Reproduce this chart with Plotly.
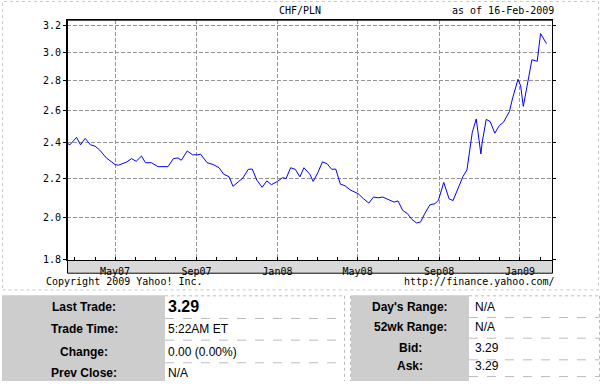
import math
import plotly.graph_objects as go

W, H = 604, 387

# ---- data ----
dates = [
    "2007-02-17", "2007-02-22", "2007-03-04", "2007-03-10", "2007-03-17", "2007-03-25", "2007-04-01", "2007-04-08", "2007-04-18", "2007-04-23",
    "2007-05-01", "2007-05-06", "2007-05-11", "2007-05-18", "2007-05-26", "2007-06-02", "2007-06-10", "2007-06-16", "2007-06-25", "2007-07-05",
    "2007-07-20", "2007-07-28", "2007-08-04", "2007-08-09", "2007-08-18", "2007-08-26", "2007-09-03", "2007-09-07", "2007-09-17", "2007-09-26",
    "2007-10-05", "2007-10-12", "2007-10-20", "2007-10-26", "2007-11-03", "2007-11-10", "2007-11-18", "2007-11-24", "2007-12-01", "2007-12-09",
    "2007-12-16", "2007-12-23", "2007-12-31", "2008-01-09", "2008-01-14", "2008-01-21", "2008-01-28", "2008-02-04", "2008-02-10", "2008-02-19",
    "2008-02-24", "2008-03-02", "2008-03-09", "2008-03-16", "2008-03-23", "2008-03-29", "2008-04-05", "2008-04-12", "2008-04-20", "2008-05-02",
    "2008-05-10", "2008-05-18", "2008-05-25", "2008-06-01", "2008-06-08", "2008-06-18", "2008-06-25", "2008-07-01", "2008-07-08", "2008-07-15",
    "2008-07-22", "2008-07-29", "2008-08-04", "2008-08-10", "2008-08-18", "2008-08-26", "2008-08-31", "2008-09-08", "2008-09-16", "2008-09-22",
    "2008-09-30", "2008-10-07", "2008-10-13", "2008-10-17", "2008-10-21", "2008-10-27", "2008-10-30", "2008-11-03", "2008-11-05", "2008-11-11",
    "2008-11-17", "2008-11-24", "2008-12-01", "2008-12-07", "2008-12-16", "2008-12-21", "2008-12-29", "2009-01-02", "2009-01-06", "2009-01-11",
    "2009-01-19", "2009-01-27", "2009-02-01", "2009-02-10",
]
values = [
    2.400, 2.389, 2.433, 2.389, 2.427, 2.389, 2.381, 2.358, 2.313, 2.298,
    2.276, 2.272, 2.280, 2.289, 2.309, 2.294, 2.324, 2.286, 2.286, 2.264,
    2.264, 2.309, 2.313, 2.300, 2.353, 2.331, 2.331, 2.335, 2.286, 2.276,
    2.258, 2.222, 2.209, 2.157, 2.181, 2.202, 2.249, 2.251, 2.190, 2.152,
    2.186, 2.166, 2.181, 2.204, 2.198, 2.258, 2.249, 2.208, 2.258, 2.222,
    2.183, 2.231, 2.291, 2.280, 2.249, 2.251, 2.169, 2.160, 2.138, 2.118,
    2.092, 2.070, 2.101, 2.097, 2.101, 2.087, 2.075, 2.081, 2.033, 2.018,
    1.988, 1.971, 1.976, 2.015, 2.061, 2.067, 2.085, 2.178, 2.092, 2.083,
    2.150, 2.210, 2.246, 2.344, 2.463, 2.546, 2.463, 2.336, 2.404, 2.543,
    2.530, 2.458, 2.506, 2.525, 2.592, 2.682, 2.807, 2.762, 2.626, 2.742,
    2.945, 2.934, 3.141, 3.064,
]
x_tick_dates = ["2007-05-01", "2007-09-01", "2008-01-01", "2008-05-01", "2008-09-01", "2009-01-01"]
x_tick_labels = ["May07", "Sep07", "Jan08", "May08", "Sep08", "Jan09"]
month_ticks = [f"{y}-{m:02d}-01" for y in (2007, 2008, 2009) for m in range(1, 13)
               if "2007-03-01" <= f"{y}-{m:02d}-01" <= "2009-02-01"]
y_tick_vals = [1.8, 2.0, 2.2, 2.4, 2.6, 2.8, 3.0, 3.2]
y_tick_labels = ["1.8", "2.0", "2.2", "2.4", "2.6", "2.8", "3.0", "3.2"]

table_left_labels = ["Last Trade:", "Trade Time:", "Change:", "Prev Close:"]
table_left_values = ["3.29", "5:22AM ET", "0.00 (0.00%)", "N/A"]
table_right_labels = ["Day's Range:", "52wk Range:", "Bid:", "Ask:"]
table_right_values = ["N/A", "N/A", "3.29", "3.29"]

# ---- helpers (pixel -> paper) ----
def px(x):
    return x / W

def py(y):
    return 1 - y / H

MONO = "DejaVu Sans Mono"
SANS = "Liberation Sans, Arial, sans-serif"

# plot area in pixels
L, R, T, B, BAND = 67, 552, 20, 264, 277

fig = go.Figure()
fig.add_trace(go.Scatter(x=dates, y=values, mode="lines",
                         line=dict(color="#0000ff", width=1), hoverinfo="skip"))

GRID = "#949494"
DASH = "4px,2px"
fig.update_layout(
    width=W, height=H, margin=dict(l=0, r=0, t=0, b=0),
    paper_bgcolor="white", plot_bgcolor="white", showlegend=False,
    font=dict(family=MONO, size=10, color="black"),
    xaxis=dict(
        type="date", domain=[px(L), px(R)],
        range=["2007-02-17 14:00", "2009-02-18 07:00"],
        tickmode="array", tickvals=x_tick_dates, ticktext=x_tick_labels,
        ticks="", showline=True, linecolor="black", linewidth=1, mirror=True,
        showgrid=True, gridcolor=GRID, gridwidth=1, griddash=DASH,
        tickfont=dict(family=MONO, size=10, color="black"),
        ticklabelstandoff=2,
        minor=dict(tickmode="array", tickvals=month_ticks, ticks="inside", ticklen=3,
                   tickcolor="black", tickwidth=1, showgrid=False),
        zeroline=False, fixedrange=True,
    ),
    yaxis=dict(
        type="log", domain=[py(B), py(T)],
        range=[math.log10(1.8), math.log10(3.25)],
        tickmode="array", tickvals=y_tick_vals, ticktext=y_tick_labels,
        ticks="outside", ticklen=3, tickcolor="black", tickwidth=1,
        showline=True, linecolor="black", linewidth=1, mirror="ticks",
        showgrid=True, gridcolor=GRID, gridwidth=1, griddash=DASH,
        tickfont=dict(family=MONO, size=10, color="black"),
        zeroline=False, fixedrange=True,
    ),
)

shapes = []
# outer dotted border of chart region
shapes.append(dict(type="rect", xref="paper", yref="paper", x0=px(2.5), x1=px(598.5), y0=py(294.5), y1=py(1.5),
                   line=dict(color="#c8c8c8", width=1, dash="dot")))
# hatched band under the plot
shapes.append(dict(type="rect", xref="paper", yref="paper", x0=px(L), x1=px(R), y0=py(BAND), y1=py(B),
                   fillcolor="#d9d9d9", line=dict(width=0), layer="below"))
# plot frame
shapes.append(dict(type="rect", xref="paper", yref="paper", x0=px(L + 0.5), x1=px(R + 0.5), y0=py(BAND + 0.5), y1=py(T + 0.5),
                   line=dict(color="black", width=1), layer="above"))

# tables
shapes.append(dict(type="rect", xref="paper", yref="paper", x0=px(2), x1=px(165), y0=py(387), y1=py(300),
                   fillcolor="#cdcdcd", line=dict(width=0), layer="below"))
shapes.append(dict(type="rect", xref="paper", yref="paper", x0=px(351), x1=px(469), y0=py(387), y1=py(300),
                   fillcolor="#cdcdcd", line=dict(width=0), layer="below"))
for (x0, x1) in ((165, 344.5), (469, 599.5)):
    shapes.append(dict(type="line", xref="paper", yref="paper", x0=px(x0), x1=px(x1), y0=py(300.5), y1=py(300.5),
                       line=dict(color="#bbbbbb", width=1, dash="dot")))
    shapes.append(dict(type="line", xref="paper", yref="paper", x0=px(x1), x1=px(x1), y0=py(300.5), y1=py(387),
                       line=dict(color="#bbbbbb", width=1, dash="dot")))
for yy in (323.5, 345.5, 368.5):
    shapes.append(dict(type="line", xref="paper", yref="paper", x0=px(165), x1=px(344.5), y0=py(yy), y1=py(yy),
                       line=dict(color="#bbbbbb", width=1, dash="dash")))
for yy in (322.5, 343.5, 365.5, 382.5):
    shapes.append(dict(type="line", xref="paper", yref="paper", x0=px(469), x1=px(599.5), y0=py(yy), y1=py(yy),
                       line=dict(color="#bbbbbb", width=1, dash="dash")))
shapes.append(dict(type="line", xref="paper", yref="paper", x0=px(350.5), x1=px(350.5), y0=py(300.5), y1=py(387),
                   line=dict(color="#bbbbbb", width=1, dash="dot")))
fig.update_layout(shapes=shapes)

ann = []
def text(x, y, s, xanchor="left", size=10, family=MONO, bold=False):
    ann.append(dict(x=px(x), y=py(y), xref="paper", yref="paper", text=f"<b>{s}</b>" if bold else s,
                    showarrow=False, xanchor=xanchor, yanchor="middle",
                    font=dict(family=family, size=size, color="black")))

text(300, 11, "CHF/PLN", "center")
text(556, 11, "as of 16-Feb-2009", "right")
text(44, 286, "Copyright 2009 Yahoo! Inc.", "left")
text(557, 286, "http://finance.yahoo.com/", "right")

left_rows = [311.5, 334.5, 357.5, 378.5]
for i, (lab, val) in enumerate(zip(table_left_labels, table_left_values)):
    text(84, left_rows[i], lab, "center", size=12, family=SANS, bold=True)
    if i == 0:
        text(166, left_rows[i], val, "left", size=16, family=SANS, bold=True)
    else:
        text(166, left_rows[i], val, "left", size=12, family=SANS)

right_rows = [311.5, 332.5, 353.5, 372]
for i, (lab, val) in enumerate(zip(table_right_labels, table_right_values)):
    text(410, right_rows[i], lab, "center", size=12, family=SANS, bold=True)
    text(473, right_rows[i], val, "left", size=12, family=SANS)

fig.update_layout(annotations=ann)
fig.write_html("out.html", config={"displayModeBar": False},
               post_script="document.body.style.margin='0';document.body.style.padding='0';document.body.style.overflow='hidden';")
